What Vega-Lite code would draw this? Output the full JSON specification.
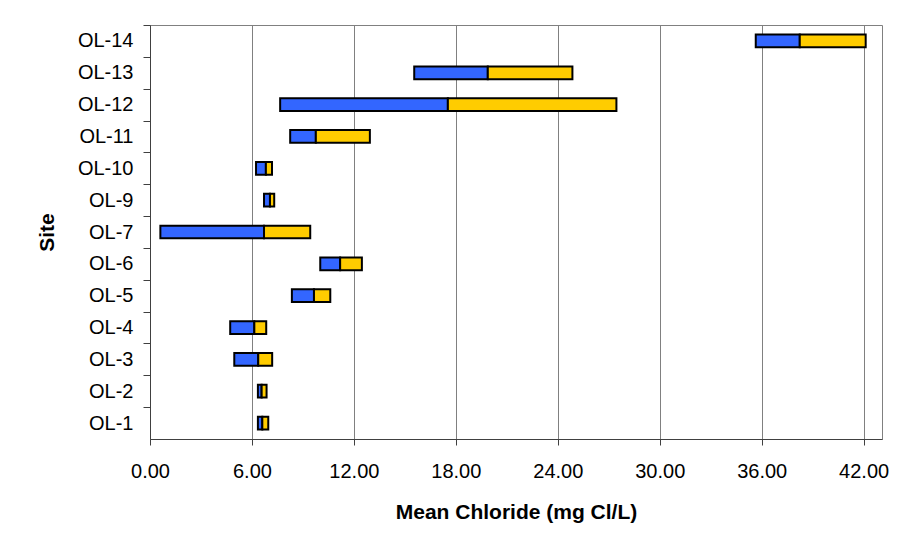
{
  "$schema": "https://vega.github.io/schema/vega-lite/v6.json",
  "width": 732,
  "height": 414,
  "autosize": {"type": "none"},
  "padding": {"left": 150, "top": 25, "right": 37, "bottom": 115},
  "background": "white",
  "config": {
    "view": {"stroke": "#808080", "strokeWidth": 1},
    "font": "Liberation Sans"
  },
  "data": {
    "values": [
      {"site": "OL-14", "low": 35.65, "mean": 38.24, "high": 42.12},
      {"site": "OL-13", "low": 15.55, "mean": 19.88, "high": 24.86},
      {"site": "OL-12", "low": 7.66, "mean": 17.53, "high": 27.45},
      {"site": "OL-11", "low": 8.25, "mean": 9.76, "high": 12.94},
      {"site": "OL-10", "low": 6.24, "mean": 6.82, "high": 7.18},
      {"site": "OL-9", "low": 6.71, "mean": 7.06, "high": 7.31},
      {"site": "OL-7", "low": 0.61, "mean": 6.71, "high": 9.43},
      {"site": "OL-6", "low": 10.02, "mean": 11.19, "high": 12.47},
      {"site": "OL-5", "low": 8.35, "mean": 9.65, "high": 10.61},
      {"site": "OL-4", "low": 4.72, "mean": 6.14, "high": 6.84},
      {"site": "OL-3", "low": 4.96, "mean": 6.37, "high": 7.19},
      {"site": "OL-2", "low": 6.35, "mean": 6.57, "high": 6.86},
      {"site": "OL-1", "low": 6.35, "mean": 6.61, "high": 6.96}
    ]
  },
  "encoding": {
    "y": {
      "field": "site",
      "type": "nominal",
      "sort": ["OL-14", "OL-13", "OL-12", "OL-11", "OL-10", "OL-9", "OL-7", "OL-6", "OL-5", "OL-4", "OL-3", "OL-2", "OL-1"],
      "scale": {"paddingInner": 0.6, "paddingOuter": 0.3},
      "axis": {
        "title": "Site",
        "titleFont": "Liberation Sans",
        "titleFontSize": 21,
        "titleFontWeight": "bold",
        "titleColor": "black",
        "titlePadding": 20,
        "labelFont": "Liberation Sans",
        "labelFontSize": 20,
        "labelColor": "black",
        "labelPadding": 10,
        "tickSize": 7,
        "tickColor": "#404040",
        "tickOffset": -15.92,
        "labelOffset": 15.92,
        "domainColor": "#404040",
        "grid": false
      }
    }
  },
  "layer": [
    {
      "mark": {"type": "bar", "color": "#3366FF", "stroke": "black", "strokeWidth": 2},
      "encoding": {
        "x": {
          "field": "low",
          "type": "quantitative",
          "scale": {"domain": [0, 43.08], "nice": false, "zero": false},
          "axis": {
            "title": "Mean Chloride (mg Cl/L)",
            "titleFont": "Liberation Sans",
            "titleFontSize": 21,
            "titleFontWeight": "bold",
            "titleColor": "black",
            "titlePadding": 20,
            "values": [0, 6, 12, 18, 24, 30, 36, 42],
            "format": ".2f",
            "labelFont": "Liberation Sans",
            "labelFontSize": 20,
            "labelColor": "black",
            "labelPadding": 16,
            "labelFlush": false,
            "labelOverlap": false,
            "tickSize": 6,
            "tickColor": "#404040",
            "domainColor": "#404040",
            "grid": true,
            "gridColor": "#808080",
            "gridOpacity": 1,
            "gridWidth": 1
          }
        },
        "x2": {"field": "mean"}
      }
    },
    {
      "mark": {"type": "bar", "color": "#FFCC00", "stroke": "black", "strokeWidth": 2},
      "encoding": {
        "x": {"field": "mean", "type": "quantitative"},
        "x2": {"field": "high"}
      }
    }
  ]
}
